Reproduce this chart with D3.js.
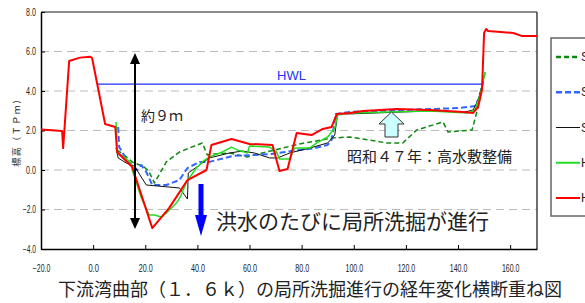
<!DOCTYPE html>
<html lang="ja">
<head>
<meta charset="UTF-8">
<title>下流湾曲部 横断重ね図</title>
<style>
  body { margin: 0; background: #fff; }
  svg { display: block; }
  .tick-label { font-family: "Liberation Sans", Arial, sans-serif; font-size: 10px; fill: #222; }
  .jp { font-family: "Noto Sans CJK JP", sans-serif; fill: #222; }
  .grid { stroke: #bbb; stroke-width: 1.2px; stroke-dasharray: 8 5; }
  .sec { fill: none; stroke-linejoin: round; }
</style>
</head>
<body>
<svg width="585" height="303"></svg>
<script src="https://cdnjs.cloudflare.com/ajax/libs/d3/7.8.5/d3.min.js"></script>
<script>

var xTicks = [-20, 0, 20, 40, 60, 80, 100, 120, 140, 160];
var yTicks = [-4, -2, 0, 2, 4, 6, 8];
var hwl = 4.35;
var hwlRange = [1.5, 149.6];

// cross sections [distance, elevation]
var sA = [[9.2,1.01],[11.9,0.76],[15.0,0.41],[19.6,0.15],[21.5,-0.1],[23.5,-0.66],[28.1,0.41],[33.1,0.91],
  [41.9,1.37],[43.8,0.76],[45.4,0.81],[52.3,0.86],[59.2,0.66],[66.5,0.91],[79.2,1.32],[91.9,1.62],[98.5,1.67],
  [112.7,1.37],[118.8,1.37],[124.2,2.03],[134.2,2.43],[136.2,1.92],[145.4,2.03],[147.7,3.19],[150.4,4.96]];
var sB = [[9.6,2.18],[10.0,1.16],[11.2,0.91],[12.7,0.51],[15.0,0.25],[16.9,0.0],[18.5,0.25],[20.4,-0.1],
  [22.7,-0.76],[28.1,-0.76],[33.1,-0.51],[36.2,0.1],[40.8,0.41],[44.6,0.41],[53.5,0.71],[61.2,0.76],[68.5,0.81],
  [76.2,0.96],[85.0,1.11],[90.0,1.27],[91.5,1.52],[93.1,2.84],[98.5,2.94],[140.8,3.14],[146.5,3.24],[148.1,3.65],[149.6,4.46]];
var sC = [[8.8,1.11],[9.6,0.61],[12.7,0.35],[15.8,0.2],[20.4,-0.76],[33.1,-0.91],[36.2,-1.47],[36.5,-0.15],
  [40.8,0.25],[44.6,0.61],[52.3,0.86],[57.3,0.96],[61.9,0.86],[67.7,0.61],[70.8,0.61],[75.4,0.86],[83.1,1.11],
  [90.0,1.37],[92.7,1.77],[93.8,2.84],[98.5,2.84],[129.2,2.99],[142.7,2.94],[145.8,3.04],[147.7,3.54],[149.6,4.46]];
var hA = [[8.8,2.43],[9.2,0.86],[11.9,0.66],[14.6,0.35],[15.0,0.0],[16.9,-0.76],[18.5,-1.42],[21.5,-2.28],
  [23.5,-2.28],[26.2,-2.38],[28.5,-2.13],[32.3,-1.62],[33.8,-1.27],[35.8,-0.61],[39.6,0.1],[41.9,0.41],[44.6,0.66],
  [49.6,0.91],[53.1,1.16],[55.4,1.01],[59.2,0.86],[60.0,1.22],[67.7,1.16],[70.4,0.91],[71.5,0.56],[75.4,0.56],
  [77.3,1.11],[83.1,1.11],[85.8,1.37],[90.0,1.67],[92.7,2.13],[93.8,2.78],[98.5,2.89],[129.2,2.99],[143.8,2.89],
  [146.5,3.04],[148.5,3.8],[150.4,4.96]];
var hB = [[-20,2.05],[-11.9,1.97],[-11.5,1.11],[-9.2,5.52],[-5.0,5.69],[-1.2,5.74],[-0.4,5.67],[4.6,2.33],
  [8.5,2.18],[9.2,0.91],[15.0,0.15],[22.7,-2.94],[29.2,-1.92],[36.2,-0.51],[43.5,0.0],[45.4,1.27],[53.1,1.57],
  [60.0,1.32],[68.8,1.27],[71.5,-0.05],[74.6,0.05],[78.1,1.87],[83.8,1.77],[88.1,2.08],[91.5,2.18],[93.5,2.84],
  [98.5,2.89],[103.5,2.99],[116.5,3.09],[129.2,3.04],[141.9,2.94],[145.8,2.89],[147.7,3.19],[149.2,4.05],
  [150.0,6.94],[150.8,7.14],[151.5,7.04],[161.2,6.94],[164.6,6.78],[170.3,6.78]];

var seriesNames = ["S47", "S57", "S63", "H5", "H13"];
var series = [sA, sB, sC, hA, hB];
var colors = ["#118811", "#3366ff", "#111111", "#22dd22", "#ff0000"];
var widths = [1.5, 2, 1, 1.5, 2];
var dashes = ["5 3", "6 3", null, null, null];

var svg = d3.select("svg");

var x = d3.scaleLinear().domain([-20, 170.3]).range([41, 537]);
var y = d3.scaleLinear().domain([-4, 8]).range([249, 12]);

// grid
svg.append("g").selectAll("line")
  .data(yTicks.filter(function(d){ return d > -4 && d < 8; }))
  .enter().append("line")
    .attr("class", "grid")
    .attr("x1", x(-20)).attr("x2", x(170.3))
    .attr("y1", function(d){ return y(d); })
    .attr("y2", function(d){ return y(d); });

// frame
svg.append("line").attr("x1", x(-20)).attr("x2", x(170.3)).attr("y1", y(8)).attr("y2", y(8))
  .attr("stroke", "#666").attr("stroke-width", 1.6);
svg.append("line").attr("x1", x(170.3)).attr("x2", x(170.3)).attr("y1", y(8)).attr("y2", y(-4))
  .attr("stroke", "#333").attr("stroke-width", 1.4);

// axes
var xAxis = d3.axisBottom(x).tickValues(xTicks).tickSize(0).tickFormat(d3.format(".1f"));
var gx = svg.append("g").attr("transform", "translate(0," + y(-4) + ")").call(xAxis);
gx.select(".domain").attr("stroke", "#000").attr("stroke-width", 1.5);
gx.selectAll(".tick").append("line").attr("y1", 0).attr("y2", -4).attr("stroke", "#000");
gx.selectAll("text").attr("class", "tick-label").attr("dy", null).attr("y", 23)
  .attr("textLength", function(d){ return d3.format(".1f")(d).length * 3.5; })
  .attr("lengthAdjust", "spacingAndGlyphs");

var yAxis = d3.axisLeft(y).tickValues(yTicks).tickSize(0).tickFormat(d3.format(".1f"));
var gy = svg.append("g").attr("transform", "translate(" + x(-20) + ",0)").call(yAxis);
gy.select(".domain").attr("stroke", "#000").attr("stroke-width", 1.5);
gy.selectAll(".tick").append("line").attr("x1", 0).attr("x2", 4).attr("stroke", "#000");
gy.selectAll("text").attr("class", "tick-label").attr("x", -5)
  .attr("textLength", function(d){ return d3.format(".1f")(d).length * 3.3; })
  .attr("lengthAdjust", "spacingAndGlyphs");

svg.append("text").attr("class", "jp")
  .attr("transform", "translate(20,130) rotate(-90)")
  .attr("text-anchor", "middle").attr("font-size", 9).attr("letter-spacing", 1.5)
  .text("標高（ＴＰｍ）");

// HWL
svg.append("line")
  .attr("x1", x(hwlRange[0])).attr("x2", x(hwlRange[1]))
  .attr("y1", y(hwl)).attr("y2", y(hwl))
  .attr("stroke", "#1f2fff").attr("stroke-width", 1.2);
svg.append("text").attr("x", 277).attr("y", y(hwl) - 4)
  .attr("font-family", "Liberation Sans, Arial, sans-serif").attr("font-size", 13)
  .attr("fill", "#2233ff").text("HWL");

// sections
var line = d3.line().x(function(d){ return x(d[0]); }).y(function(d){ return y(d[1]); });
svg.append("g").selectAll("path")
  .data(series)
  .enter().append("path")
    .attr("class", "sec")
    .attr("d", line)
    .attr("stroke", function(d, i){ return colors[i]; })
    .attr("stroke-width", function(d, i){ return widths[i]; })
    .attr("stroke-dasharray", function(d, i){ return dashes[i]; });

// 約9m arrow
var ax = 135;
svg.append("line").attr("x1", ax).attr("x2", ax).attr("y1", 60).attr("y2", 222)
  .attr("stroke", "#000").attr("stroke-width", 2);
svg.append("path").attr("d", "M" + ax + ",53L" + (ax - 5) + ",64L" + (ax + 5) + ",64Z").attr("fill", "#000");
svg.append("path").attr("d", "M" + ax + ",229L" + (ax - 5) + ",218L" + (ax + 5) + ",218Z").attr("fill", "#000");
svg.append("text").attr("class", "jp").attr("x", 141).attr("y", 121).attr("font-size", 14).text("約９ｍ");

// 高水敷整備 arrow
svg.append("path")
  .attr("d", "M385,137L398,137L398,124L404,124L391.5,112L379,124L385,124Z")
  .attr("fill", "#ccffff").attr("stroke", "#333").attr("stroke-width", 1);
svg.append("text").attr("class", "jp").attr("x", 347).attr("y", 162).attr("font-size", 15)
  .text("昭和４７年：高水敷整備");

// 洗掘 arrow
svg.append("rect").attr("x", 198.5).attr("y", 184).attr("width", 5).attr("height", 32).attr("fill", "#0000ff");
svg.append("path").attr("d", "M195,215L207,215L201,236Z").attr("fill", "#0000ff");
svg.append("text").attr("class", "jp").attr("x", 216).attr("y", 229).attr("font-size", 21)
  .text("洪水のたびに局所洗掘が進行");

// title
svg.append("text").attr("class", "jp").attr("x", 310).attr("y", 296).attr("font-size", 18)
  .attr("text-anchor", "middle")
  .text("下流湾曲部（１．６ｋ）の局所洗掘進行の経年変化横断重ね図");

// legend
var lg = svg.append("g");
lg.append("rect").attr("x", 551).attr("y", 38).attr("width", 60).attr("height", 178)
  .attr("fill", "#fff").attr("stroke", "#666").attr("stroke-width", 1.5);
var ly = d3.scalePoint().domain(seriesNames).range([57, 198]);
var li = lg.selectAll("g.item").data(seriesNames).enter().append("g").attr("class", "item");
li.append("line")
  .attr("x1", 556).attr("x2", 580)
  .attr("y1", function(d){ return ly(d); }).attr("y2", function(d){ return ly(d); })
  .attr("stroke", function(d, i){ return colors[i]; })
  .attr("stroke-width", function(d, i){ return i < 2 ? 2.5 : (i === 2 ? 1 : 2); })
  .attr("stroke-dasharray", function(d, i){ return dashes[i]; });
li.append("text")
  .attr("x", 581).attr("y", function(d){ return ly(d) + 4; })
  .attr("font-family", "Liberation Sans, Arial, sans-serif").attr("font-size", 12).attr("fill", "#222")
  .text(function(d){ return d; });

</script>
</body>
</html>
